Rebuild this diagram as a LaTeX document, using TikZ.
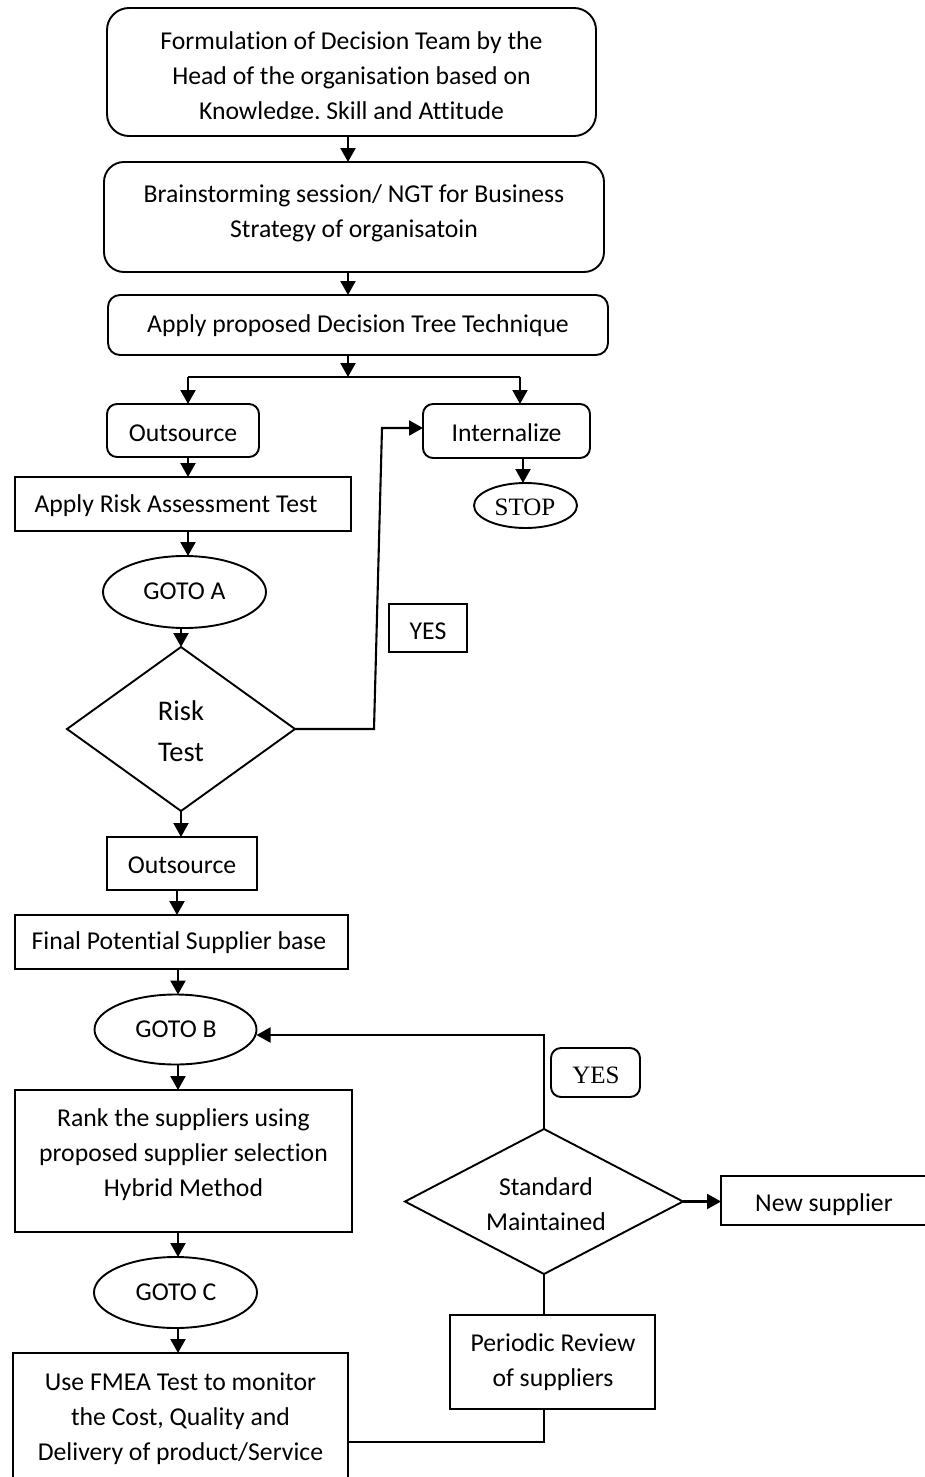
\documentclass[tikz,border=0pt]{standalone}
\usepackage{fontspec}
\setmainfont{Carlito}[Ligatures=NoCommon]
\newfontfamily\timesface{Liberation Serif}
\usetikzlibrary{arrows.meta,shapes.geometric}
\begin{document}
\begin{tikzpicture}[x=1pt,y=-1pt,
  every node/.style={inner sep=0pt,outer sep=0pt},
  shapeline/.style={draw=black,line width=1.9pt},
  rbox/.style={shapeline,rectangle,rounded corners=#1},
  sbox/.style={shapeline,rectangle},
  oval/.style={shapeline,ellipse},
  decision/.style={shapeline,diamond},
  txt/.style={font=\fontsize{25.7}{35}\selectfont,align=center},
  seriftxt/.style={font=\timesface\fontsize{25}{30}\selectfont},
  bigtxt/.style={font=\fontsize{28.5}{41}\selectfont,align=center},
  flow/.style={line width=2.1pt,-{Triangle[width=15pt,length=14pt]}},
  link/.style={line width=2.1pt},
]
\useasboundingbox[fill=white] (0,0) rectangle (924,1477);

% ---- shapes ----
\node[rbox=22pt,minimum width=489pt,minimum height=128pt] (team) at (351.5,72) {};
\node[rbox=20pt,minimum width=500pt,minimum height=110pt] (brain) at (354,217) {};
\node[rbox=12pt,minimum width=500pt,minimum height=60pt] (tree) at (358,325) {};
\node[rbox=10pt,minimum width=152pt,minimum height=53pt] (outA) at (183,430.5) {};
\node[rbox=10pt,minimum width=167pt,minimum height=54pt] (intl) at (506.5,431) {};
\node[oval,minimum width=103pt,minimum height=45pt] (stop) at (525.5,505.5) {};
\node[sbox,minimum width=336pt,minimum height=54pt] (riskA) at (183,504) {};
\node[oval,minimum width=163pt,minimum height=72pt] (gotoA) at (184.5,592) {};
\node[decision,minimum width=228pt,minimum height=164pt] (riskT) at (181,729) {};
\node[sbox,minimum width=78pt,minimum height=48pt] (yesA) at (428,628) {};
\node[sbox,minimum width=150pt,minimum height=53pt] (outB) at (182,863.5) {};
\node[sbox,minimum width=333pt,minimum height=54pt] (base) at (181.5,942) {};
\node[oval,minimum width=162pt,minimum height=70pt] (gotoB) at (175.5,1029.5) {};
\node[sbox,minimum width=337pt,minimum height=142pt] (rank) at (183.5,1161) {};
\node[oval,minimum width=163pt,minimum height=71pt] (gotoC) at (175.5,1292.5) {};
\node[sbox,minimum width=335pt,minimum height=140pt] (fmea) at (180.5,1423) {};
\node[sbox,minimum width=205pt,minimum height=94pt] (review) at (552.5,1362) {};
\node[decision,minimum width=278pt,minimum height=145pt] (std) at (544,1201.5) {};
\node[rbox=10pt,minimum width=89pt,minimum height=49pt] (yesB) at (595.5,1072.5) {};
\node[sbox,minimum width=214pt,minimum height=49pt] (newsup) at (828,1200.5) {};

% ---- texts ----
\begin{scope}
  \clip (107,8) rectangle (596,119);
  \node[txt] (teamT) at (351.5,78) {Formulation of Decision Team by the\\Head of the organisation based on\\Knowledge, Skill and Attitude};
\end{scope}
\node[txt] (brainT) at (354,213) {Brainstorming session/ NGT for Business\\Strategy of organisatoin};
\node[txt] (treeT) at (358,325.5) {Apply proposed Decision Tree Technique};
\node[txt] (outAT) at (183,433.5) {Outsource};
\node[txt] (intlT) at (506.5,433) {Internalize};
\node[seriftxt] (stopT) at (525,507.5) {STOP};
\node[txt] (riskAT) at (176,506) {Apply Risk Assessment Test};
\node[txt] (gotoAT) at (184.5,591) {GOTO A};
\node[bigtxt] (riskTT) at (181,731.5) {Risk\\Test};
\node[txt] (yesAT) at (428,631.5) {YES};
\node[txt] (outBT) at (182,865) {Outsource};
\node[txt] (baseT) at (179,943) {Final Potential Supplier base};
\node[txt] (gotoBT) at (176,1029) {GOTO B};
\node[txt] (rankT) at (183.5,1155) {Rank the suppliers using\\proposed supplier selection\\Hybrid Method};
\node[txt] (gotoCT) at (176,1292) {GOTO C};
\node[txt] (fmeaT) at (180.5,1419) {Use FMEA Test to monitor\\the Cost, Quality and\\Delivery of product/Service};
\node[txt] (reviewT) at (553,1362.5) {Periodic Review\\of suppliers};
\node[txt] (stdT) at (546,1204.5) {Standard\\Maintained};
\node[seriftxt] (yesBT) at (596,1075) {YES};
\node[txt] (newsupT) at (824,1205) {New supplier};

% ---- connectors ----
\coordinate (split) at (348,377);
\coordinate (splitL) at (188,377);
\coordinate (splitR) at (520,377);
\coordinate (riskBendA) at (374,729);
\coordinate (riskBendB) at (382,428);

\draw[flow] (team.south -| split) -- (brain.north -| split);
\draw[flow] (brain.south -| split) -- (tree.north -| split);
\draw[flow] (tree.south -| split) -- (split);
\draw[link] (splitL) -- (splitR);
\draw[flow] (splitL) -- (splitL |- outA.north);
\draw[flow] (splitR) -- (splitR |- intl.north);
\draw[flow] (intl.south -| 523,0) -- (stop.north -| 523,0);
\draw[flow] (outA.south -| splitL) -- (riskA.north -| splitL);
\draw[flow] (riskA.south -| splitL) -- (gotoA.north -| splitL);
\draw[flow] (gotoA.south -| riskT.north) -- (riskT.north);
\draw[flow] (riskT.east) -- (riskBendA) -- (riskBendB) -- (intl.west |- riskBendB);
\draw[flow] (riskT.south) -- (riskT.south |- outB.north);
\draw[flow] (outB.south -| 177,0) -- (base.north -| 177,0);
\draw[flow] (base.south -| 178,0) -- (gotoB.north -| 178,0);
\draw[flow] (gotoB.south -| 178,0) -- (rank.north -| 178,0);
\draw[flow] (rank.south -| 178,0) -- (gotoC.north -| 178,0);
\draw[flow] (gotoC.south -| 178,0) -- (fmea.north -| 178,0);
\draw[link] (fmea.east |- 0,1442) -- (std.south |- 0,1442) -- (std.south |- review.south);
\draw[link] (std.south) -- (std.south |- review.north);
\draw[flow] (std.north) -- (std.north |- 0,1035) -- (gotoB.east |- 0,1035);
\draw[flow] (std.east) -- (newsup.west |- std.east);
\end{tikzpicture}
\end{document}
